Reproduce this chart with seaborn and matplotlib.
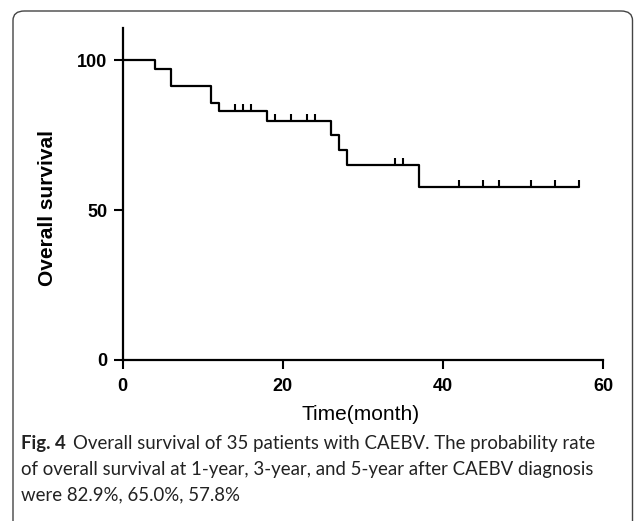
import matplotlib
matplotlib.use("Agg")
import matplotlib.pyplot as plt
import seaborn as sns
import pandas as pd
import numpy as np
from matplotlib.path import Path
from matplotlib.patches import FancyBboxPatch

# ---- data ----
step_times = [0, 4, 6, 11, 12, 18, 26, 27, 28, 37, 57]
step_surv = [100, 97.1, 91.4, 85.7, 82.9, 79.7, 75.0, 70.0, 65.0, 57.8, 57.8]
censor_times = [14, 15, 16, 19, 21, 23, 24, 34, 35, 42, 45, 47, 51, 54, 57]
x_ticks = [0, 20, 40, 60]
y_ticks = [0, 50, 100]
x_label = "Time(month)"
y_label = "Overall survival"
caption_bold = "Fig. 4"
caption_lines = [
    "Overall survival of 35 patients with CAEBV. The probability rate",
    "of overall survival at 1-year, 3-year, and 5-year after CAEBV diagnosis",
    "were 82.9%, 65.0%, 57.8%",
]

sns.set_style("ticks")
plt.rcParams["font.family"] = ["Liberation Sans", "DejaVu Sans"]

W, H = 634, 521
fig = plt.figure(figsize=(W / 100, H / 100), dpi=100)

# axes placement (pixels -> fractions)
x0_px, x1_px = 122.7, 603.3
y0_px, ytop_px = 360, 28
ax_w = x1_px - x0_px
ax_h = y0_px - ytop_px
ax = fig.add_axes([x0_px / W, 1 - y0_px / H, ax_w / W, ax_h / H])

df = pd.DataFrame({"t": step_times, "s": step_surv})
sns.lineplot(data=df, x="t", y="s", ax=ax, drawstyle="steps-post",
             color="black", linewidth=1.6, estimator=None, sort=False)

# censor marks: value of step function at each censor time
st = np.array(step_times)
ss = np.array(step_surv)
cens_y = [ss[np.searchsorted(st, c, side="right") - 1] for c in censor_times]
cdf = pd.DataFrame({"t": censor_times, "s": cens_y})
tick_up = Path([(0, 0), (0, 1)], [Path.MOVETO, Path.LINETO])
sns.scatterplot(data=cdf, x="t", y="s", ax=ax, marker=tick_up, s=110,
                color="black", edgecolor="black", linewidth=1.5, zorder=5)

ax.set_xlim(0, 60)
ax.set_ylim(0, 110.7)
for side in ["top", "right"]:
    ax.spines[side].set_visible(False)
for side in ["left", "bottom"]:
    ax.spines[side].set_linewidth(1.6)
    ax.spines[side].set_color("black")
ax.set_xticks(x_ticks)
ax.set_yticks(y_ticks)
ax.set_xticklabels([str(v) for v in x_ticks], fontweight="bold", fontsize=13)
ax.set_yticklabels([str(v) for v in y_ticks], fontweight="bold", fontsize=13)
ax.tick_params(axis="both", length=6.5, width=1.5, color="black", labelcolor="black")
ax.tick_params(axis="x", pad=6.5)
ax.tick_params(axis="y", pad=4.5)
ax.set_xlabel(x_label, fontsize=15, va="center", color="black")
ax.set_ylabel(y_label, fontsize=15, fontweight="bold", va="center", color="black")
ax.xaxis.set_label_coords((361 - x0_px) / ax_w, (y0_px - 414) / ax_h)
ax.yaxis.set_label_coords((48 - x0_px) / ax_w, (y0_px - 208) / ax_h)
ax.set_facecolor("white")

# bounding rounded box (open at bottom, extends below figure)
box = FancyBboxPatch((13 / W, -40 / H), (632.5 - 13) / W, (H - 11 + 40) / H,
                     boxstyle="round,pad=0,rounding_size=0.018",
                     transform=fig.transFigure, fill=False,
                     edgecolor="#444444", linewidth=1.0, clip_on=False)
fig.patches.append(box)

# caption
cap_font = ["Lato", "DejaVu Sans"]
cap_size = 13.4
ys = [444, 470, 495]
t0 = fig.text(21 / W, 1 - ys[0] / H, caption_bold, fontsize=cap_size, fontweight="bold",
              family=cap_font, va="center", ha="left", color="#222222")
fig.canvas.draw()
bb = t0.get_window_extent()
fig.text((bb.x1 + 7) / W, 1 - ys[0] / H, caption_lines[0], fontsize=cap_size,
         family=cap_font, va="center", ha="left", color="#222222")
for yy, line in zip(ys[1:], caption_lines[1:]):
    fig.text(21 / W, 1 - yy / H, line, fontsize=cap_size, family=cap_font,
             va="center", ha="left", color="#222222")

fig.savefig("out.png", dpi=100, facecolor="white")
